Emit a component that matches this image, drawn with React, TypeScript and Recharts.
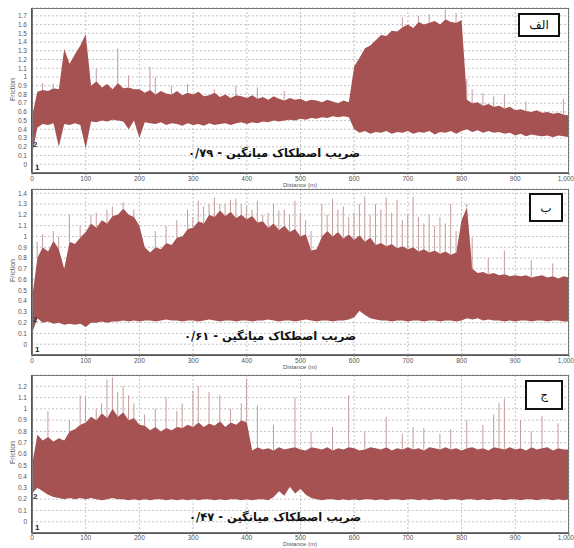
import { Area, Bar, CartesianGrid, ComposedChart, XAxis, YAxis } from "recharts";

// sample positions along the track (m)
const distance = [
  0, 10, 20, 30, 40, 50, 60, 70, 80, 90,
  100, 110, 120, 130, 140, 150, 160, 170, 180, 190,
  200, 210, 220, 230, 240, 250, 260, 270, 280, 290,
  300, 310, 320, 330, 340, 350, 360, 370, 380, 390,
  400, 410, 420, 430, 440, 450, 460, 470, 480, 490,
  500, 510, 520, 530, 540, 550, 560, 570, 580, 590,
  600, 610, 620, 630, 640, 650, 660, 670, 680, 690,
  700, 710, 720, 730, 740, 750, 760, 770, 780, 790,
  800, 810, 820, 830, 840, 850, 860, 870, 880, 890,
  900, 910, 920, 930, 940, 950, 960, 970, 980, 990,
  1000,
];

const xTicks = [0, 100, 200, 300, 400, 500, 600, 700, 800, 900, 1000];

// panel الف
const hiA = [
  0.55, 0.83, 0.85, 0.84, 0.87, 0.86, 1.32, 1.15, 1.26, 1.36,
  1.49, 0.9, 0.95, 0.88, 0.92, 0.86, 0.93, 0.87, 0.88, 0.86,
  0.86, 0.82, 0.85, 0.8, 0.84, 0.81, 0.8, 0.84, 0.79, 0.82,
  0.8, 0.83, 0.78, 0.79, 0.82, 0.77, 0.8, 0.76, 0.79, 0.78,
  0.76, 0.79, 0.75, 0.77, 0.74, 0.78, 0.75, 0.73, 0.76, 0.74,
  0.75, 0.72, 0.74, 0.73, 0.71, 0.74, 0.72, 0.7, 0.73, 0.71,
  1.12, 1.22, 1.33, 1.36, 1.42, 1.48, 1.47, 1.53, 1.52, 1.57,
  1.6, 1.56, 1.63, 1.6, 1.62, 1.64, 1.6, 1.66, 1.63, 1.62,
  1.65, 0.74, 0.7, 0.71, 0.67, 0.69, 0.66, 0.67, 0.64, 0.66,
  0.62, 0.63, 0.61, 0.6, 0.62, 0.59, 0.6, 0.58, 0.59, 0.57,
  0.56,
];
const loA = [
  0.1, 0.42, 0.46, 0.45, 0.47, 0.2, 0.46, 0.45, 0.47, 0.45,
  0.18, 0.49, 0.48, 0.5, 0.49, 0.51, 0.5, 0.49, 0.4, 0.5,
  0.3, 0.48, 0.47, 0.46, 0.48, 0.45, 0.47, 0.46, 0.44, 0.47,
  0.45, 0.46, 0.44, 0.47, 0.45, 0.46, 0.47, 0.45, 0.47, 0.48,
  0.46, 0.48, 0.47, 0.49, 0.48, 0.5, 0.49, 0.5, 0.51, 0.5,
  0.52, 0.51, 0.53, 0.52, 0.54, 0.53, 0.55, 0.54, 0.55, 0.54,
  0.4, 0.36, 0.38, 0.35, 0.37, 0.36, 0.38, 0.35, 0.37, 0.36,
  0.38, 0.35, 0.37, 0.36, 0.38, 0.34, 0.37, 0.36, 0.38, 0.35,
  0.38, 0.4, 0.37, 0.39, 0.36, 0.38, 0.36, 0.37, 0.35, 0.36,
  0.33, 0.35, 0.32, 0.34, 0.33, 0.32, 0.33, 0.31, 0.33, 0.32,
  0.31,
];
const spikeAtA = [20, 40, 120, 160, 180, 220, 230, 260, 290, 340, 380, 420, 470, 690, 720, 740, 770, 790, 810, 820, 840, 860, 880, 920, 990];
const spikeTopA = [0.93, 0.92, 1.1, 1.33, 1.02, 1.12, 1.0, 0.9, 0.92, 0.86, 0.9, 0.88, 0.84, 1.68, 1.7, 1.72, 1.77, 1.73, 0.98, 0.86, 0.82, 0.78, 0.8, 0.72, 0.75];

// panel ب
const hiB = [
  0.42, 0.8, 0.9, 0.86, 0.96, 0.88, 0.7, 0.95, 0.93, 0.99,
  1.04, 1.12, 1.08, 1.15, 1.12, 1.19, 1.2, 1.26, 1.2, 1.18,
  1.1, 0.9, 0.85, 0.9, 0.88, 0.94, 0.92, 0.99, 1.0, 1.07,
  1.08, 1.14, 1.12, 1.2, 1.18, 1.24, 1.19, 1.23, 1.17, 1.2,
  1.16, 1.19, 1.13, 1.14, 1.08, 1.12, 1.06, 1.1, 1.04, 1.07,
  1.0, 1.02, 0.87, 0.88, 1.0, 1.05, 1.0, 1.04, 0.98, 1.02,
  0.97, 1.01, 0.95, 0.99, 0.92, 0.94, 0.91, 0.93, 0.89, 0.91,
  0.88, 0.9, 0.86, 0.88, 0.85, 0.87, 0.84, 0.86, 0.83, 0.85,
  1.15, 1.27, 0.7, 0.66, 0.67, 0.65, 0.66, 0.64, 0.65, 0.63,
  0.64, 0.63, 0.64, 0.62, 0.63, 0.64, 0.62, 0.63, 0.61, 0.63,
  0.62,
];
const loB = [
  0.1, 0.24, 0.2, 0.21, 0.19, 0.2, 0.18, 0.19, 0.18, 0.19,
  0.16, 0.2, 0.2, 0.21, 0.2, 0.21, 0.21, 0.22, 0.21, 0.22,
  0.21, 0.22, 0.22, 0.21, 0.22, 0.23, 0.22, 0.22, 0.21, 0.22,
  0.22, 0.21, 0.22, 0.23, 0.22, 0.21, 0.22, 0.22, 0.21, 0.22,
  0.22, 0.21, 0.22, 0.22, 0.23, 0.22, 0.21, 0.22, 0.22, 0.21,
  0.22, 0.23, 0.22, 0.21, 0.22, 0.22, 0.21, 0.22, 0.22, 0.23,
  0.25, 0.31, 0.27, 0.24, 0.23, 0.22, 0.22, 0.21, 0.22, 0.22,
  0.21, 0.22, 0.22, 0.21, 0.22, 0.22, 0.21, 0.22, 0.22, 0.21,
  0.22, 0.24, 0.23, 0.24, 0.22, 0.23, 0.22, 0.22, 0.21, 0.22,
  0.21, 0.22, 0.22, 0.21, 0.22, 0.22, 0.21, 0.22, 0.22, 0.21,
  0.21,
];
const spikeAtB = [
  10, 20, 40, 50, 70, 90, 110, 120, 140, 150, 170, 190, 230, 250, 270, 290, 300, 310, 320, 330,
  340, 350, 360, 370, 380, 390, 400, 410, 420, 430, 440, 450, 460, 470, 480, 490, 500, 510, 520, 540,
  550, 560, 570, 580, 590, 600, 610, 620, 630, 640, 650, 660, 670, 680, 690, 700, 710, 720, 730, 740,
  750, 760, 770, 780, 790, 810, 820, 850, 880, 930, 970,
];
const spikeTopB = [
  0.95, 1.02, 1.05, 1.0, 1.2, 1.1, 1.2, 1.22, 1.25, 1.28, 1.32, 1.25, 1.05, 1.1, 1.15, 1.25, 1.18, 1.33, 1.28, 1.3,
  1.36, 1.3, 1.3, 1.34, 1.35, 1.3, 1.28, 1.25, 1.33, 1.2, 1.22, 1.3, 1.24, 1.25, 1.2, 1.33, 1.22, 1.15, 1.05, 1.3,
  1.2, 1.35, 1.25, 1.28, 1.18, 1.22, 1.3, 1.37, 1.2, 1.3, 1.25, 1.36, 1.22, 1.34, 1.15, 1.2, 1.37, 1.18, 1.12, 1.2,
  1.1, 1.18, 1.12, 1.3, 1.05, 1.3, 0.99, 0.8, 0.87, 0.78, 0.75,
];

// panel ج
const hiC = [
  0.5, 0.77, 0.72, 0.75, 0.71, 0.74, 0.72, 0.8, 0.82, 0.86,
  0.88, 0.93, 0.9, 0.96, 0.92, 1.0, 0.93, 0.97, 0.9, 0.92,
  0.86, 0.85, 0.81, 0.84, 0.8, 0.83, 0.81, 0.84, 0.83, 0.86,
  0.84, 0.88, 0.84, 0.87, 0.85, 0.89, 0.84, 0.88, 0.86, 0.9,
  0.88, 0.63, 0.66, 0.64, 0.65, 0.63, 0.66, 0.64, 0.65, 0.66,
  0.64, 0.63, 0.66, 0.65, 0.64, 0.66, 0.63, 0.65, 0.64, 0.66,
  0.65, 0.63, 0.64, 0.66, 0.65, 0.64, 0.66, 0.63, 0.65, 0.64,
  0.66, 0.64, 0.65, 0.63, 0.66, 0.65, 0.64, 0.66, 0.64, 0.65,
  0.63, 0.65, 0.66, 0.64, 0.65, 0.63, 0.66, 0.65, 0.64, 0.66,
  0.64, 0.65, 0.63, 0.66, 0.64, 0.65, 0.66, 0.63, 0.65, 0.64,
  0.64,
];
const loC = [
  0.25, 0.3, 0.27, 0.24, 0.22, 0.21, 0.2, 0.21, 0.2, 0.21,
  0.2, 0.21, 0.2, 0.19, 0.2, 0.21, 0.2, 0.2, 0.19, 0.2,
  0.19, 0.2, 0.19, 0.2, 0.2, 0.19, 0.2, 0.19, 0.2, 0.19,
  0.2, 0.19, 0.2, 0.2, 0.19, 0.2, 0.19, 0.2, 0.2, 0.19,
  0.2, 0.19, 0.2, 0.2, 0.19, 0.22, 0.27, 0.23, 0.31, 0.25,
  0.29, 0.24, 0.21, 0.2, 0.19, 0.2, 0.2, 0.19, 0.2, 0.19,
  0.2, 0.19, 0.2, 0.2, 0.19, 0.2, 0.19, 0.2, 0.2, 0.19,
  0.2, 0.2, 0.19, 0.2, 0.19, 0.2, 0.2, 0.19, 0.2, 0.2,
  0.19, 0.2, 0.2, 0.19, 0.2, 0.19, 0.2, 0.2, 0.19, 0.2,
  0.2, 0.19, 0.2, 0.2, 0.19, 0.2, 0.2, 0.19, 0.2, 0.19,
  0.2,
];
const spikeAtC = [
  30, 70, 90, 100, 120, 130, 140, 150, 160, 170, 180, 190, 210, 230, 250, 270, 280, 300, 310, 330, 350, 370,
  390, 400, 420, 450, 490, 520, 560, 590, 620, 660, 690, 710, 730, 760, 780, 810, 840, 860, 870, 880, 910, 930, 950, 980,
];
const spikeTopC = [
  0.98, 0.9, 1.12, 1.1, 1.0, 1.05, 1.26, 1.28, 1.15, 1.2, 1.12, 1.05, 0.95, 1.0, 1.1, 0.98, 1.05, 1.16, 1.2, 1.15, 1.12, 1.0,
  1.05, 1.27, 1.03, 0.86, 1.1, 0.8, 0.84, 1.12, 0.8, 0.93, 0.78, 0.84, 0.83, 0.78, 0.82, 0.9, 0.86, 0.95, 1.05, 1.09, 0.9, 0.8, 0.94, 0.87,
];

const ticksA = [0, 0.1, 0.2, 0.3, 0.4, 0.5, 0.6, 0.7, 0.8, 0.9, 1, 1.1, 1.2, 1.3, 1.4, 1.5, 1.6, 1.7];
const ticksB = [0, 0.1, 0.2, 0.3, 0.4, 0.5, 0.6, 0.7, 0.8, 0.9, 1, 1.1, 1.2, 1.3, 1.4];
const ticksC = [0, 0.1, 0.2, 0.3, 0.4, 0.5, 0.6, 0.7, 0.8, 0.9, 1, 1.1, 1.2];

const FILL = "#a65252";
const SPIKE = "#c49c9c";
const FONT = "Liberation Sans, Arial, sans-serif";
const tickStyle = { fontSize: 6.5, fill: "#555", fontFamily: FONT };

function build(lo: number[], hi: number[], at: number[], top: number[]) {
  return distance.map((d, i) => {
    const k = at.indexOf(d);
    return { d, band: [lo[i], hi[i]], spike: k >= 0 ? [hi[i], top[k]] : null };
  });
}

function XTick(props: any) {
  const { x, y, payload } = props;
  const last = payload.value === 1000;
  return (
    <text
      x={last ? x + 5 : x}
      y={y}
      dy="0.71em"
      textAnchor={last ? "end" : "middle"}
      fontSize={6.5}
      fill="#555"
      fontFamily={FONT}
    >
      {last ? "1,000" : payload.value}
    </text>
  );
}

function Panel(props: {
  plotTop: number;
  plotH: number;
  yMax: number;
  yTicks: number[];
  data: any[];
  caption: string;
  captionX: number;
  captionY: number;
  tag: string;
  box: [number, number, number, number];
  y2: number;
  tickGap: number;
  distGap: number;
}) {
  const { plotTop, plotH, yMax, yTicks, data } = props;
  const chartH = 8 + plotH + 20;
  const [bx, by, bw, bh] = props.box;
  return (
    <>
      <div style={{ position: "absolute", left: 0, top: plotTop - 8 }}>
        <ComposedChart width={574} height={chartH} data={data} margin={{ top: 8, right: 5, left: 0, bottom: 0 }}>
          <CartesianGrid stroke="#b4b4b4" strokeDasharray="2 2" strokeWidth={0.8} />
          <XAxis
            dataKey="d"
            type="number"
            domain={[0, 1000]}
            ticks={xTicks}
            interval={0}
            height={20}
            tickSize={2}
            tickMargin={props.tickGap}
            tick={<XTick />}
            axisLine={{ stroke: "#555", strokeWidth: 2 }}
            tickLine={{ stroke: "#777" }}
          />
          <YAxis
            type="number"
            domain={[-0.1, yMax]}
            ticks={yTicks}
            interval={0}
            width={32}
            tickSize={2}
            tickMargin={3}
            tick={tickStyle}
            axisLine={{ stroke: "#555", strokeWidth: 2 }}
            tickLine={false}
            allowDataOverflow
          />
          <Bar dataKey="spike" fill={SPIKE} barSize={1} isAnimationActive={false} />
          <Area type="linear" dataKey="band" stroke="none" fill={FILL} fillOpacity={1} isAnimationActive={false} />
        </ComposedChart>
      </div>
      <div
        style={{
          position: "absolute",
          left: 32,
          top: plotTop,
          width: 537,
          height: plotH,
          border: "1.5px solid #777",
          boxSizing: "border-box",
          pointerEvents: "none",
        }}
      />
      <div
        style={{
          position: "absolute",
          left: 12 - 20,
          top: plotTop + plotH / 2 - 5,
          width: 40,
          textAlign: "center",
          fontSize: 7,
          color: "#555",
          fontFamily: FONT,
          transform: "rotate(-90deg)",
        }}
      >
        Friction
      </div>
      <div
        style={{
          position: "absolute",
          left: 250,
          width: 100,
          top: plotTop + plotH + props.distGap,
          textAlign: "center",
          fontSize: 6,
          lineHeight: 1,
          color: "#555",
          fontFamily: FONT,
        }}
      >
        Distance (m)
      </div>
      <div
        style={{
          position: "absolute",
          left: props.captionX - 120,
          width: 240,
          top: props.captionY - 10,
          textAlign: "center",
          direction: "rtl",
          fontSize: 11.5,
          fontWeight: "bold",
          color: "#111",
          fontFamily: "DejaVu Sans, sans-serif",
        }}
      >
        {props.caption}
      </div>
      <div
        style={{
          position: "absolute",
          left: bx,
          top: by,
          width: bw,
          height: bh,
          border: "2px solid #111",
          background: "#fff",
          boxSizing: "border-box",
          display: "flex",
          alignItems: "center",
          justifyContent: "center",
          fontSize: 12,
          color: "#111",
          fontFamily: "DejaVu Sans, sans-serif",
          direction: "rtl",
        }}
      >
        {props.tag}
      </div>
      <div style={{ position: "absolute", left: 33, top: props.y2 - 5, fontSize: 8, fontWeight: "bold", color: "#333", fontFamily: FONT }}>
        2
      </div>
      <div style={{ position: "absolute", left: 35, top: plotTop + plotH - 10, fontSize: 8, fontWeight: "bold", color: "#222", fontFamily: FONT }}>
        1
      </div>
    </>
  );
}

export default function App() {
  return (
    <div style={{ position: "absolute", left: 0, top: 0, width: 574, height: 548, overflow: "hidden", background: "#fff" }}>
      <Panel
        plotTop={8}
        plotH={165}
        yMax={1.79}
        yTicks={ticksA}
        data={build(loA, hiA, spikeAtA, spikeTopA)}
        caption="ضریب اصطکاک میانگین - ۰/۷۹"
        captionX={274}
        captionY={156}
        tag="الف"
        box={[518, 13, 42, 24]}
        y2={145}
        tickGap={1}
        distGap={9}
      />
      <Panel
        plotTop={189}
        plotH={166}
        yMax={1.44}
        yTicks={ticksB}
        data={build(loB, hiB, spikeAtB, spikeTopB)}
        caption="ضریب اصطکاک میانگین - ۰/۶۱"
        captionX={270}
        captionY={339}
        tag="ب"
        box={[529, 193, 34, 29]}
        y2={320}
        tickGap={1}
        distGap={9}
      />
      <Panel
        plotTop={375}
        plotH={158}
        yMax={1.3}
        yTicks={ticksC}
        data={build(loC, hiC, spikeAtC, spikeTopC)}
        caption="ضریب اصطکاک میانگین - ۰/۴۷"
        captionX={275}
        captionY={520}
        tag="ج"
        box={[525, 380, 38, 30]}
        y2={497}
        tickGap={0}
        distGap={8}
      />
    </div>
  );
}
